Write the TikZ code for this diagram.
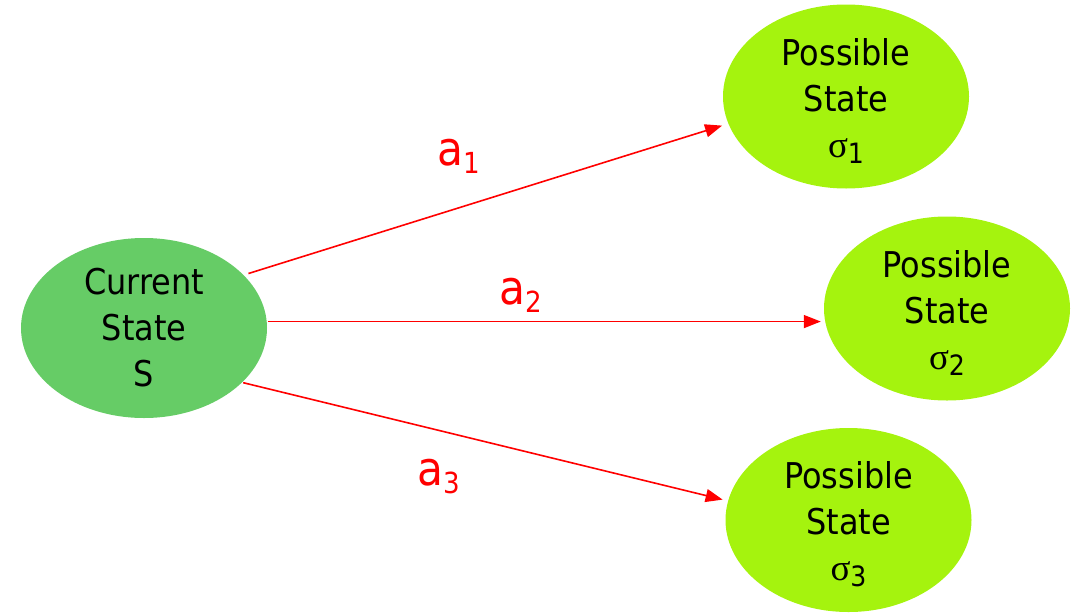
\documentclass[tikz,border=0pt]{standalone}
\usepackage{fontspec}
\setmainfont{DejaVu Sans}[FakeStretch=0.9]
\newfontfamily\greekfont{Liberation Serif}
\usetikzlibrary{arrows.meta,shapes.geometric,calc}

\definecolor{curfill}{RGB}{102,204,102}
\definecolor{posfill}{RGB}{165,243,14}
\definecolor{arrowred}{RGB}{255,0,0}

\newcommand{\statesize}{\fontsize{35.5}{46}\selectfont}
\newcommand{\sigmasub}[1]{{\greekfont\fontsize{37}{37}\selectfont σ}\raisebox{-6pt}{\fontsize{28}{28}\selectfont #1}}
\newcommand{\actlabel}[1]{\fontsize{47}{47}\selectfont a\raisebox{-8pt}{\fontsize{29}{29}\selectfont #1}}

\tikzset{
  statebox/.style={ellipse, draw=none, inner sep=0pt, minimum width=246pt},
  current/.style={statebox, fill=curfill, minimum height=180pt},
  possible/.style={statebox, fill=posfill, minimum height=184pt},
  statetext/.style={align=center, inner sep=0pt, font=\statesize},
  action/.style={draw=arrowred, line width=1.6pt,
    -{Triangle[length=17pt,width=13pt]}},
  actiontext/.style={text=arrowred, inner sep=0pt, anchor=base west}
}

\begin{document}
\begin{tikzpicture}[x=1pt,y=-1pt]
\useasboundingbox (0,0) rectangle (1084,613);

% states
\node[current]  (cur) at (144,328)   {};
\node[possible] (p1)  at (846,96.5)  {};
\node[possible] (p2)  at (947,308.5) {};
\node[possible] (p3)  at (848.5,520) {};

\node[statetext] (curtxt) at (cur) {Current\\State\\S};
\node[statetext] (p1txt) at ($(p1)+(0,5)$) {Possible\\State\\\sigmasub{1}};
\node[statetext] (p2txt) at ($(p2)+(0,5)$) {Possible\\State\\\sigmasub{2}};
\node[statetext] (p3txt) at ($(p3)+(0,4)$) {Possible\\State\\\sigmasub{3}};

% actions
\draw[action, shorten <=5pt, shorten >=6.5pt] (cur.28) -- (p1.193);
\draw[action, shorten <=1.5pt, shorten >=3pt] (cur.3) -- (cur.3 -| p2.west);
\draw[action, shorten <=1pt, shorten >=5.5pt] (cur.-29) -- (p3.171.9);

\node[actiontext] (a1) at (437,165) {\actlabel{1}};
\node[actiontext] (a2) at (499,304) {\actlabel{2}};
\node[actiontext] (a3) at (417,485) {\actlabel{3}};
\end{tikzpicture}
\end{document}
